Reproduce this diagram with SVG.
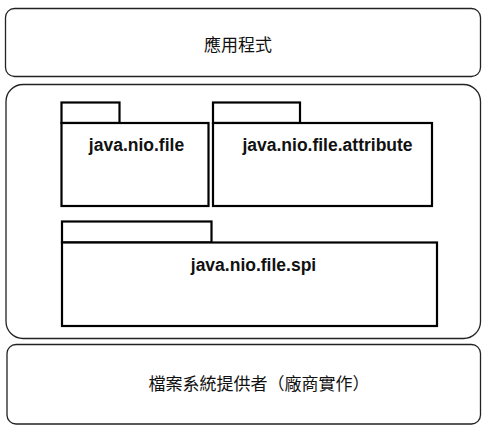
<svg xmlns="http://www.w3.org/2000/svg" width="487" height="432" viewBox="0 0 487 432">
<style>
.layer{fill:#fff;stroke:#222;stroke-width:1.3}
.pkg{fill:#fff;stroke:#000;stroke-width:2.2}
.cjk{font-family:"Liberation Sans","Noto Sans CJK TC",sans-serif;font-size:17px;fill:#111;text-anchor:middle}
.pt{font-family:"Liberation Sans",Arial,sans-serif;font-weight:bold;font-size:17.5px;fill:#111;text-anchor:middle}
</style>
<rect width="487" height="432" fill="#fff"/>
<g id="app">
<rect class="layer" x="5.5" y="8.5" width="475" height="68" rx="9"/>
<text class="cjk" x="238" y="51">應用程式</text>
</g>
<g id="api">
<rect class="layer" x="6" y="84.5" width="474.5" height="254" rx="17"/>
</g>
<g id="pkg-file">
<rect class="pkg" x="61.5" y="102.5" width="58" height="20.5"/>
<rect class="pkg" x="61.5" y="123" width="147" height="83"/>
<text class="pt" x="136.5" y="151">java.nio.file</text>
</g>
<g id="pkg-attribute">
<rect class="pkg" x="213" y="102.5" width="87" height="20.5"/>
<rect class="pkg" x="213" y="123" width="219" height="83"/>
<text class="pt" x="327.5" y="151">java.nio.file.attribute</text>
</g>
<g id="pkg-spi">
<rect class="pkg" x="62" y="221.5" width="149.5" height="21"/>
<rect class="pkg" x="62" y="242.5" width="375" height="83.5"/>
<text class="pt" x="253.5" y="270.5">java.nio.file.spi</text>
</g>
<g id="provider">
<rect class="layer" x="7" y="344.5" width="473.5" height="79.5" rx="9"/>
<text class="cjk" x="259" y="390">檔案系統提供者（廠商實作）</text>
</g>
<g id="connectors"/>
</svg>
